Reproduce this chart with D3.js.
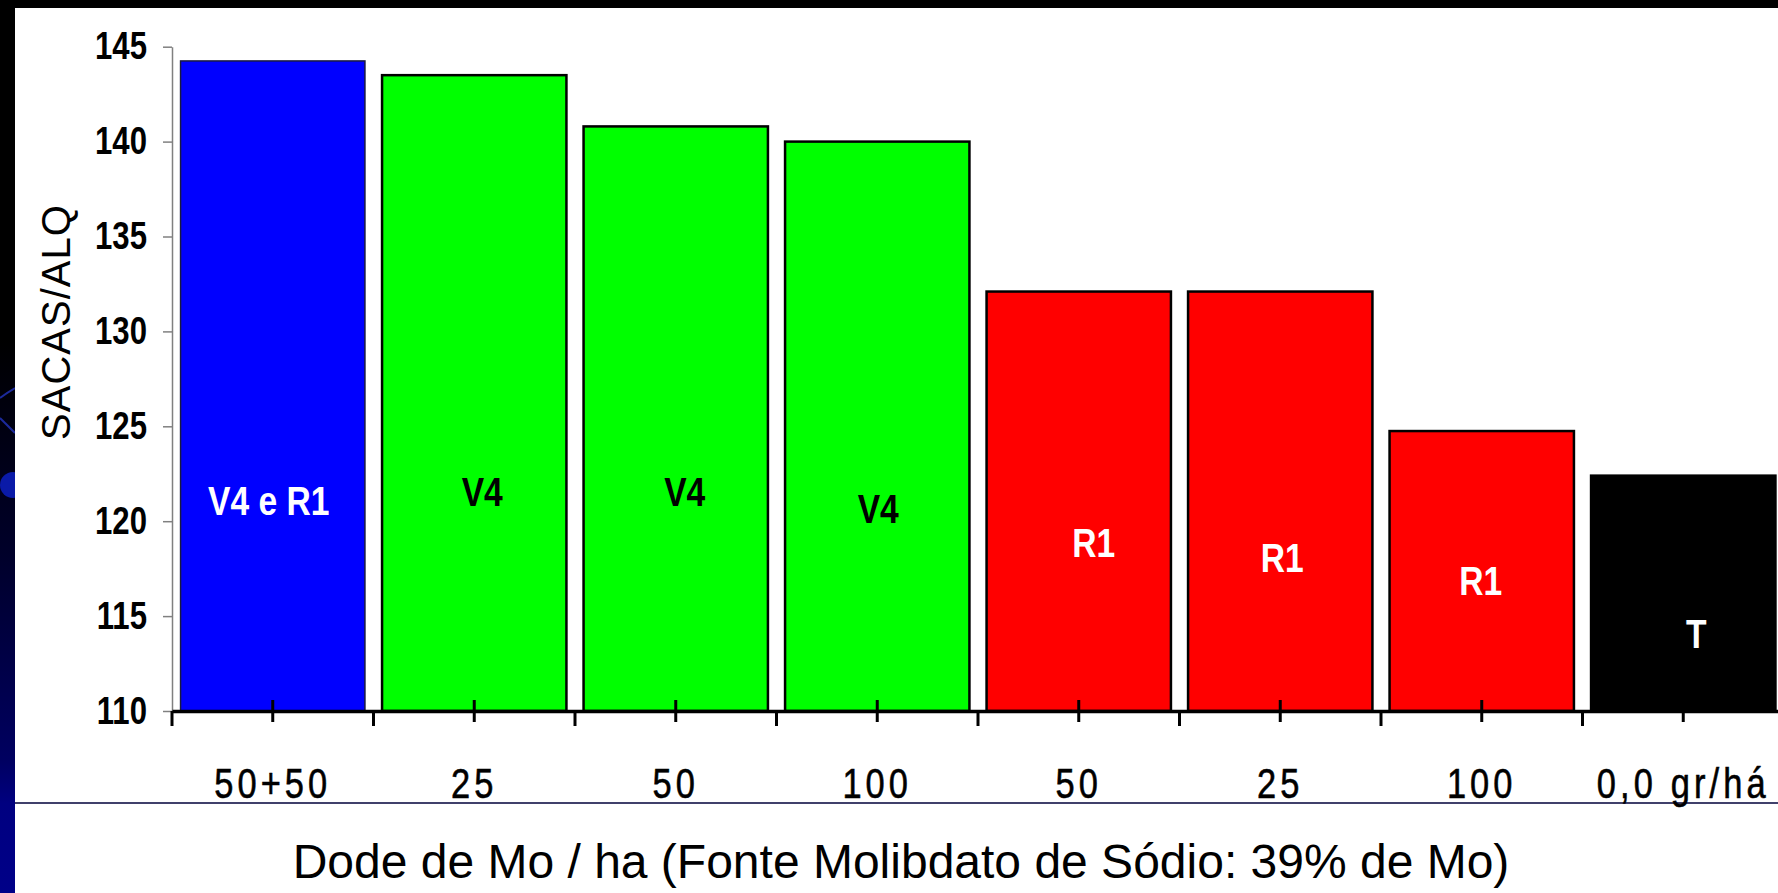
<!DOCTYPE html>
<html>
<head>
<meta charset="utf-8">
<script src="https://cdn.jsdelivr.net/npm/d3@7"></script>
<style>
  body { margin: 0; background: #ffffff; }
  svg { display: block; }
  .narrow { font-family: "Liberation Sans", Arial, sans-serif; }
  .plain { font-family: "Liberation Sans", Arial, sans-serif; }
</style>
</head>
<body>
<script>
// Data
var categories = ["50+50", "25", "50", "100", "50", "25", "100", "0,0 gr/há"]
var values = [144.25, 143.5, 140.8, 140.0, 132.1, 132.1, 124.75, 122.4]
var stages = ["V4 e R1", "V4", "V4", "V4", "R1", "R1", "R1", "T"]
var yTicks = [110, 115, 120, 125, 130, 135, 140, 145]

// where the stage label sits inside each bar (in sacas units) and its small sideways shift
var labelAt = [121.1, 121.6, 121.6, 120.7, 118.9, 118.1, 116.9, 114.1]
var labelShift = [-4, 8, 9, 1, 15, 2, -1, 13]

// Colours per stage
var stageFill = {"V4 e R1": "#0000ff", "V4": "#00ff00", "R1": "#ff0000", "T": "#000000"}
var stageText = {"V4 e R1": "#ffffff", "V4": "#000000", "R1": "#ffffff", "T": "#ffffff"}

// no narrow font installed, so squeeze the normal one
var squeeze = 0.82

var W = 1778, H = 893

var svg = d3.select("body").append("svg")
            .attr("width", W)
            .attr("height", H)

// Slide template bits: black top band and dark left strip
var defs = svg.append("defs")
var grad = defs.append("linearGradient")
               .attr("id", "leftGrad")
               .attr("x1", 0).attr("y1", 0).attr("x2", 0).attr("y2", 1)
grad.append("stop").attr("offset", "0").attr("stop-color", "#000000")
grad.append("stop").attr("offset", "0.38").attr("stop-color", "#000000")
grad.append("stop").attr("offset", "0.62").attr("stop-color", "#00002a")
grad.append("stop").attr("offset", "0.85").attr("stop-color", "#000060")
grad.append("stop").attr("offset", "0.9").attr("stop-color", "#000080")
grad.append("stop").attr("offset", "1").attr("stop-color", "#000088")

defs.append("clipPath").attr("id", "stripClip")
    .append("rect").attr("x", 0).attr("y", 0).attr("width", 15).attr("height", H)

svg.append("rect").attr("x", 0).attr("y", 0).attr("width", 15).attr("height", H)
   .attr("fill", "url(#leftGrad)")

var deco = svg.append("g").attr("clip-path", "url(#stripClip)")
deco.append("path").attr("d", "M0,398 Q8,392 15,388").attr("stroke", "#1c2a9c").attr("stroke-width", 2).attr("fill", "none")
deco.append("path").attr("d", "M0,418 Q8,426 15,433").attr("stroke", "#1c2a9c").attr("stroke-width", 2).attr("fill", "none")
deco.append("circle").attr("cx", 13).attr("cy", 485).attr("r", 13).attr("fill", "#0a1aa8")

svg.append("rect").attr("x", 0).attr("y", 0).attr("width", W).attr("height", 8).attr("fill", "#000000")

// thin rule under the category labels
svg.append("line")
   .attr("x1", 15).attr("x2", W)
   .attr("y1", 803).attr("y2", 803)
   .attr("stroke", "#00003a")
   .attr("stroke-width", 1.5)

// Scales
var x = d3.scaleBand()
          .domain(d3.range(categories.length))
          .range([172, 172 + 8 * 201.5])
          .paddingInner(0.085)
          .paddingOuter(0.0425)

var y = d3.scaleLinear()
          .domain([110, 145])
          .range([711, 46.7])

// Bars
svg.selectAll(".bar")
   .data(values)
   .enter()
   .append("rect")
     .attr("class", "bar")
     .attr("x", function(d, i) { return x(i) })
     .attr("y", function(d) { return y(d) })
     .attr("width", x.bandwidth())
     .attr("height", function(d) { return y(110) - y(d) })
     .attr("fill", function(d, i) { return stageFill[stages[i]] })
     .attr("stroke", function(d, i) { return i == 0 ? "#1a1a40" : "#000000" })
     .attr("stroke-width", function(d, i) { return i == 0 ? 1.5 : 2.5 })

// Stage labels inside bars
svg.selectAll(".stage")
   .data(stages)
   .enter()
   .append("text")
     .attr("class", "stage narrow")
     .attr("transform", function(d, i) {
       var cx = x(i) + x.bandwidth() / 2 + labelShift[i]
       return "translate(" + cx + "," + y(labelAt[i]) + ") scale(" + squeeze + ",1)"
     })
     .attr("dy", "0.36em")
     .attr("text-anchor", "middle")
     .style("font-size", "41px")
     .style("font-weight", "bold")
     .attr("fill", function(d) { return stageText[d] })
     .text(function(d) { return d })

// Y axis
var yAxis = svg.append("g")
               .attr("transform", "translate(172,0)")
               .call(d3.axisLeft(y).tickValues(yTicks).tickSize(9).tickSizeOuter(0).tickPadding(16))
yAxis.select(".domain").attr("stroke", "#808080").attr("stroke-width", 1.5)
yAxis.selectAll(".tick line").attr("stroke", "#808080").attr("stroke-width", 1.5)
yAxis.selectAll(".tick text")
     .attr("class", "narrow")
     .attr("x", 0)
     .attr("transform", "translate(-25,0) scale(" + squeeze + ",1)")
     .attr("fill", "#000000")
     .style("font-size", "38px")
     .style("font-weight", "bold")

// X axis
var xAxis = svg.append("g")
               .attr("transform", "translate(0,711)")
               .call(d3.axisBottom(x).tickSize(0).tickSizeOuter(0).tickFormat(function(i) { return categories[i] }))
xAxis.select(".domain").attr("stroke", "#000000").attr("stroke-width", 3.5)
xAxis.selectAll(".tick text")
     .attr("class", "narrow")
     .attr("y", 0)
     .attr("dy", 0)
     .attr("transform", "translate(0,87) scale(" + squeeze + ",1)")
     .attr("fill", "#000000")
     .attr("stroke", "#000000")
     .attr("stroke-width", 0.6)
     .style("font-size", "42px")
     .style("letter-spacing", "5px")
xAxis.selectAll(".tick")
     .append("line")
     .attr("y1", -11).attr("y2", 11)
     .attr("stroke", "#000000").attr("stroke-width", 3)

// boundary ticks between categories
var edges = d3.range(categories.length + 1).map(function(i) {
  return x.range()[0] + i * x.step()
})
xAxis.selectAll(".edge")
     .data(edges)
     .enter()
     .append("line")
       .attr("class", "edge")
       .attr("x1", function(d) { return d }).attr("x2", function(d) { return d })
       .attr("y1", 0).attr("y2", 15)
       .attr("stroke", "#000000").attr("stroke-width", 3)

// Axis titles
svg.append("text")
   .attr("class", "plain")
   .attr("transform", "translate(70,322) rotate(-90)")
   .attr("text-anchor", "middle")
   .style("font-size", "40px")
   .style("letter-spacing", "1px")
   .text("SACAS/ALQ")

svg.append("text")
   .attr("class", "plain")
   .attr("x", 901)
   .attr("y", 878)
   .attr("text-anchor", "middle")
   .style("font-size", "48px")
   .text("Dode de Mo / ha (Fonte Molibdato de Sódio: 39% de Mo)")
</script>
</body>
</html>
